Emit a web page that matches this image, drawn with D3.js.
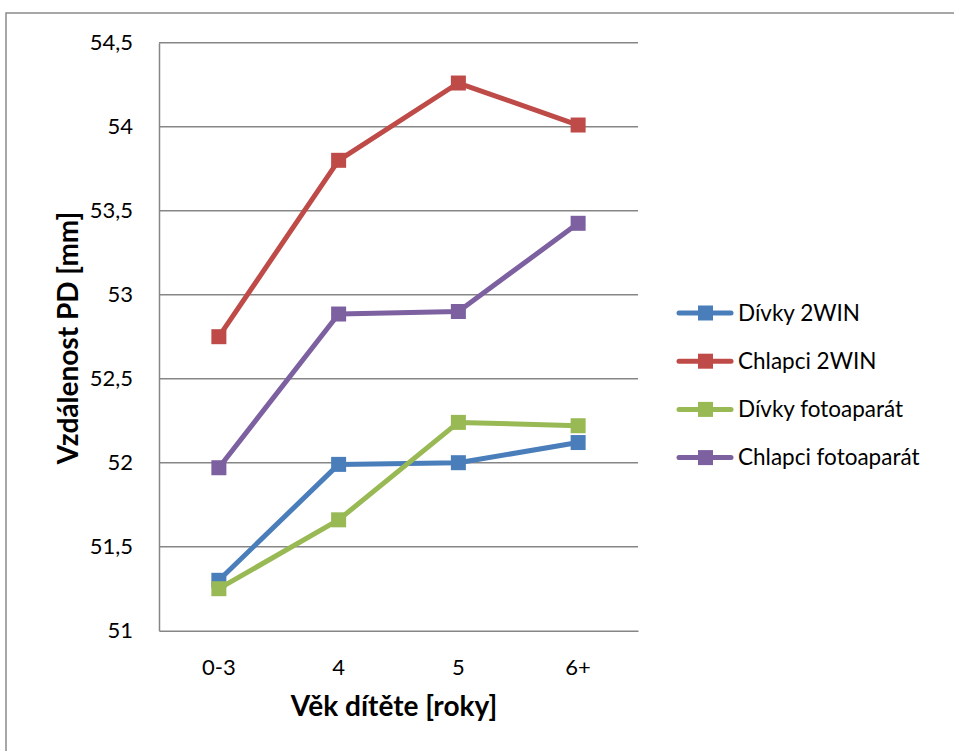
<!DOCTYPE html>
<html>
<head>
<meta charset="utf-8">
<script src="https://cdn.jsdelivr.net/npm/d3@7"></script>
<style>
  html, body { margin: 0; padding: 0; background: #fff; }
  svg { display: block; }
  text { font-family: Lato, "Open Sans", sans-serif; fill: #000; }
</style>
</head>
<body>
<svg id="chart" width="954" height="751"></svg>
<script>
// Age groups on the x axis
const categories = ["0-3", "4", "5", "6+"];
// Mean pupillary distance [mm] per group and method
const divky2win      = [51.30, 51.99, 52.00, 52.12];
const chlapci2win    = [52.75, 53.80, 54.26, 54.01];
const divkyFoto      = [51.25, 51.66, 52.24, 52.22];
const chlapciFoto    = [51.97, 52.885, 52.90, 53.425];
const seriesNames    = ["Dívky 2WIN", "Chlapci 2WIN", "Dívky fotoaparát", "Chlapci fotoaparát"];
const seriesColors   = ["#4A7EBB", "#BE4B48", "#98B954", "#7D60A0"];
const yTicks         = [51, 51.5, 52, 52.5, 53, 53.5, 54, 54.5];

const series = [divky2win, chlapci2win, divkyFoto, chlapciFoto].map((v, i) => ({
  name: seriesNames[i], color: seriesColors[i], values: v
}));

const svg = d3.select("#chart");
const plot = { left: 159, right: 638, top: 42.7, bottom: 630.7 };

// outer chart frame
svg.append("rect")
  .attr("x", 6).attr("y", 13)
  .attr("width", 970).attr("height", 760)
  .attr("fill", "none").attr("stroke", "#8a8a8a").attr("stroke-width", 1.5);

const x = d3.scaleBand().domain(categories).range([plot.left, plot.right]);
const y = d3.scaleLinear().domain([51, 54.5]).range([plot.bottom, plot.top]);

// horizontal gridlines
svg.append("g").selectAll("line").data(yTicks.slice(1)).join("line")
  .attr("x1", plot.left).attr("x2", plot.right)
  .attr("y1", d => y(d)).attr("y2", d => y(d))
  .attr("stroke", "#868686").attr("stroke-width", 1.5);

// y axis
const yAxis = svg.append("g").attr("transform", `translate(${plot.left},0)`)
  .call(d3.axisLeft(y).tickValues(yTicks).tickSize(0).tickPadding(26)
    .tickFormat(d => String(d).replace(".", ",")));
yAxis.select(".domain").attr("stroke", "#868686").attr("stroke-width", 1.5);
yAxis.selectAll("text").attr("font-size", 22).attr("font-family", "Lato, sans-serif");

// x axis
const xAxis = svg.append("g").attr("transform", `translate(0,${plot.bottom})`)
  .call(d3.axisBottom(x).tickSize(0).tickPadding(29));
xAxis.select(".domain").attr("stroke", "#868686").attr("stroke-width", 1.5);
xAxis.selectAll("text").attr("font-size", 22).attr("font-family", "Lato, sans-serif");

// axis titles
svg.append("text")
  .attr("x", 394).attr("y", 716)
  .attr("text-anchor", "middle").attr("font-size", 28).attr("font-weight", "bold")
  .text("Věk dítěte [roky]");
svg.append("text")
  .attr("transform", `translate(78,338) rotate(-90)`)
  .attr("text-anchor", "middle").attr("font-size", 28).attr("font-weight", "bold")
  .text("Vzdálenost PD [mm]");

const cx = c => x(c) + x.bandwidth() / 2;
const line = d3.line().x((d, i) => cx(categories[i])).y(d => y(d));

const g = svg.append("g");
series.forEach(s => {
  g.append("path").datum(s.values)
    .attr("d", line).attr("fill", "none")
    .attr("stroke", s.color).attr("stroke-width", 5)
    .attr("stroke-linejoin", "round");
  g.selectAll(null).data(s.values).join("rect")
    .attr("x", (d, i) => cx(categories[i]) - 7.5)
    .attr("y", d => y(d) - 7.5)
    .attr("width", 15).attr("height", 15)
    .attr("fill", s.color);
});

// legend
const legend = svg.append("g");
series.forEach((s, i) => {
  const ly = 313 + i * 48.2;
  legend.append("line")
    .attr("x1", 679).attr("x2", 731).attr("y1", ly).attr("y2", ly)
    .attr("stroke", s.color).attr("stroke-width", 5).attr("stroke-linecap", "round");
  legend.append("rect")
    .attr("x", 698).attr("y", ly - 7.5).attr("width", 15).attr("height", 15)
    .attr("fill", s.color);
  legend.append("text")
    .attr("x", 738).attr("y", ly).attr("dy", "0.35em")
    .attr("font-size", 22.5).text(s.name);
});
</script>
</body>
</html>
